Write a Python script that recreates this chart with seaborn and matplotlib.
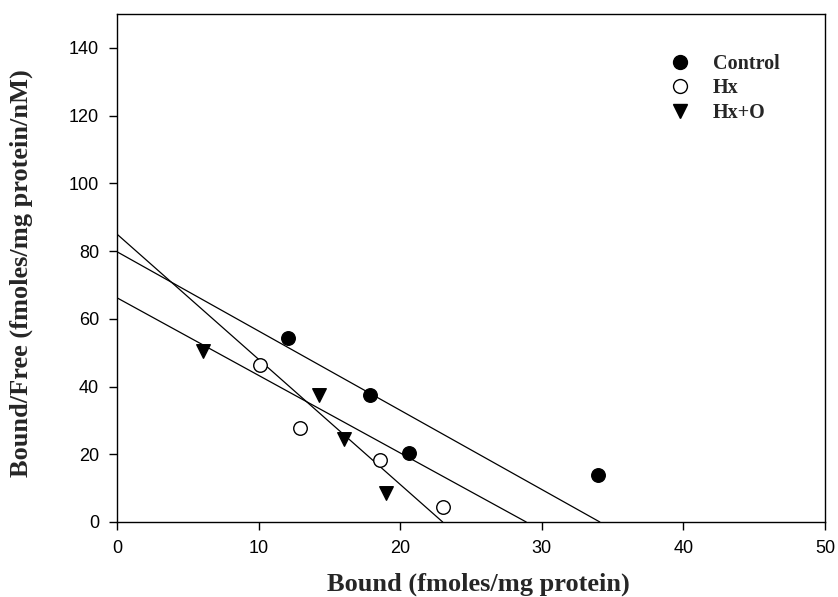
import matplotlib
matplotlib.use("Agg")
import matplotlib.pyplot as plt
import seaborn as sns
import pandas as pd
from matplotlib.lines import Line2D

# Data
groups = ["Control", "Hx", "Hx+O"]
control_bound = [12.1, 17.9, 20.6, 34.0]
control_ratio = [54.4, 37.6, 20.4, 14.0]
hx_bound = [10.1, 12.9, 18.6, 23.0]
hx_ratio = [46.3, 27.8, 18.4, 4.3]
hxo_bound = [6.1, 14.3, 16.0, 19.0]
hxo_ratio = [50.5, 37.6, 24.6, 8.6]
# Scatchard fit lines: y-intercept and x-intercept (Bmax)
line_intercept = [79.8, 85.0, 66.2]
line_bmax = [34.1, 23.0, 28.9]

xticks = [0, 10, 20, 30, 40, 50]
yticks = [0, 20, 40, 60, 80, 100, 120, 140]

df = pd.DataFrame({
    "bound": control_bound + hx_bound + hxo_bound,
    "ratio": control_ratio + hx_ratio + hxo_ratio,
    "group": ["Control"] * 4 + ["Hx"] * 4 + ["Hx+O"] * 4,
})

lines = []
for g, b0, bm in zip(groups, line_intercept, line_bmax):
    lines.append({"group": g, "x": 0.0, "y": b0})
    lines.append({"group": g, "x": bm, "y": 0.0})
ldf = pd.DataFrame(lines)

sns.set_style("ticks")
fig = plt.figure(figsize=(8.38, 5.97), dpi=100)
ax = fig.add_axes([117/838, 75/597, (825-117)/838, (522-14)/597])

sns.lineplot(data=ldf, x="x", y="y", units="group", estimator=None,
             color="black", lw=0.9, ax=ax, legend=False, sort=False)

styles = {"Control": dict(marker="o", facecolor="black"),
          "Hx": dict(marker="o", facecolor="white"),
          "Hx+O": dict(marker="v", facecolor="black")}
for g in groups:
    sub = df[df.group == g]
    st = styles[g]
    sns.scatterplot(data=sub, x="bound", y="ratio", marker=st["marker"],
                    color=st["facecolor"], edgecolor="black", linewidth=1.0,
                    s=95, ax=ax, zorder=5, legend=False)

ax.set_xlim(0, 50)
ax.set_ylim(0, 150)
ax.set_xticks(xticks)
ax.set_yticks(yticks)
for lab in ax.get_xticklabels() + ax.get_yticklabels():
    lab.set_fontfamily("Liberation Sans")
    lab.set_fontsize(13)
ax.tick_params(direction="out", length=6, width=1, colors="black", pad=7)
for sp in ax.spines.values():
    sp.set_visible(True)
    sp.set_linewidth(1.0)
    sp.set_color("black")

ax.set_xlabel("Bound (fmoles/mg protein)", fontfamily="Liberation Serif",
              fontweight="bold", fontsize=19)
ax.set_ylabel("Bound/Free (fmoles/mg protein/nM)", fontfamily="Liberation Serif",
              fontweight="bold", fontsize=19)
ax.xaxis.set_label_coords(0.511, -0.099)
ax.yaxis.set_label_coords(-0.119, 0.49)

handles = [
    Line2D([], [], marker="o", ls="", markerfacecolor="black", markeredgecolor="black", markersize=10),
    Line2D([], [], marker="o", ls="", markerfacecolor="white", markeredgecolor="black", markersize=10),
    Line2D([], [], marker="v", ls="", markerfacecolor="black", markeredgecolor="black", markersize=10),
]
leg = ax.legend(handles, groups, loc="upper left", bbox_to_anchor=(0.753, 0.957),
                frameon=False, prop={"family": "Liberation Serif", "weight": "bold", "size": 14.5},
                handletextpad=1.0, labelspacing=0.22, handlelength=1.2)

fig.savefig("out.png", dpi=100)
